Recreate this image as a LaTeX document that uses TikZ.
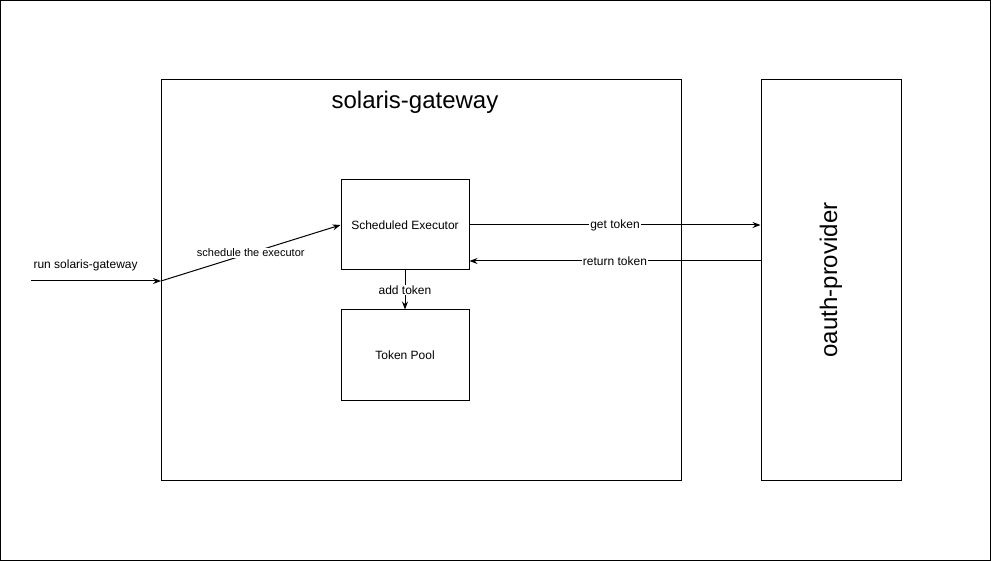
\documentclass[tikz,border=0pt]{standalone}
\usepackage{fontspec}
\setmainfont{Liberation Sans}
\usetikzlibrary{positioning, arrows.meta, calc}

\begin{document}
\begin{tikzpicture}[
    x=1pt, y=-1pt,
    every node/.style={font=\fontsize{12}{14}\selectfont},
    module/.style={
        rectangle,
        draw=black,
        fill=white,
        minimum width=128pt,
        minimum height=90pt,
        align=center,
        line width=1pt,
        inner sep=0pt
    },
    container/.style={
        rectangle,
        draw=black,
        minimum height=400pt,
        line width=1pt,
        inner sep=0pt
    },
    title/.style={
        font=\fontsize{24}{28}\selectfont
    },
    label/.style={
        fill=white,
        inner sep=1pt,
        font=\fontsize{12}{14}\selectfont
    },
    arrow/.style={
        -{Stealth[length=8pt,width=6pt]},
        line width=1pt,
        color=black
    }
]

% Canvas
\useasboundingbox (0,0) rectangle (991,561);
\draw[line width=1pt] (0.5,0.5) rectangle (990.5,560.5);

% Containers
\node[container, minimum width=520pt] (gateway) at (421,280) {};
\node[title] (gtitle) at (415,102) {solaris-gateway};
\node[container, minimum width=140pt] (oauth) at (831,280) {};
\node[title, rotate=90] (otitle) at (831,280) {oauth-provider};

% Modules
\node[module] (executor) at (405,225) {Scheduled Executor};
\node[module] (pool) at (405,355) {Token Pool};

% Entry point
\coordinate (start) at (31,281);
\coordinate (entry) at (161,281);
\draw[arrow] (start) -- (entry)
    node[pos=0.42, above, yshift=6pt] {run solaris-gateway};
\draw[arrow] (entry) -- (executor.west)
    node[label, midway, font=\fontsize{11}{13}\selectfont] {schedule the executor};

% Token exchange
\draw[arrow] (executor.east) -- (oauth.west |- executor.east)
    node[label, midway] {get token};
\draw[arrow] ($(oauth.west)+(0,-19)$) -- ($(executor.east)+(0,36)$)
    node[label, midway] {return token};

% Internal connection
\draw[arrow] (executor.south) -- (pool.north)
    node[label, midway] {add token};

\end{tikzpicture}
\end{document}
